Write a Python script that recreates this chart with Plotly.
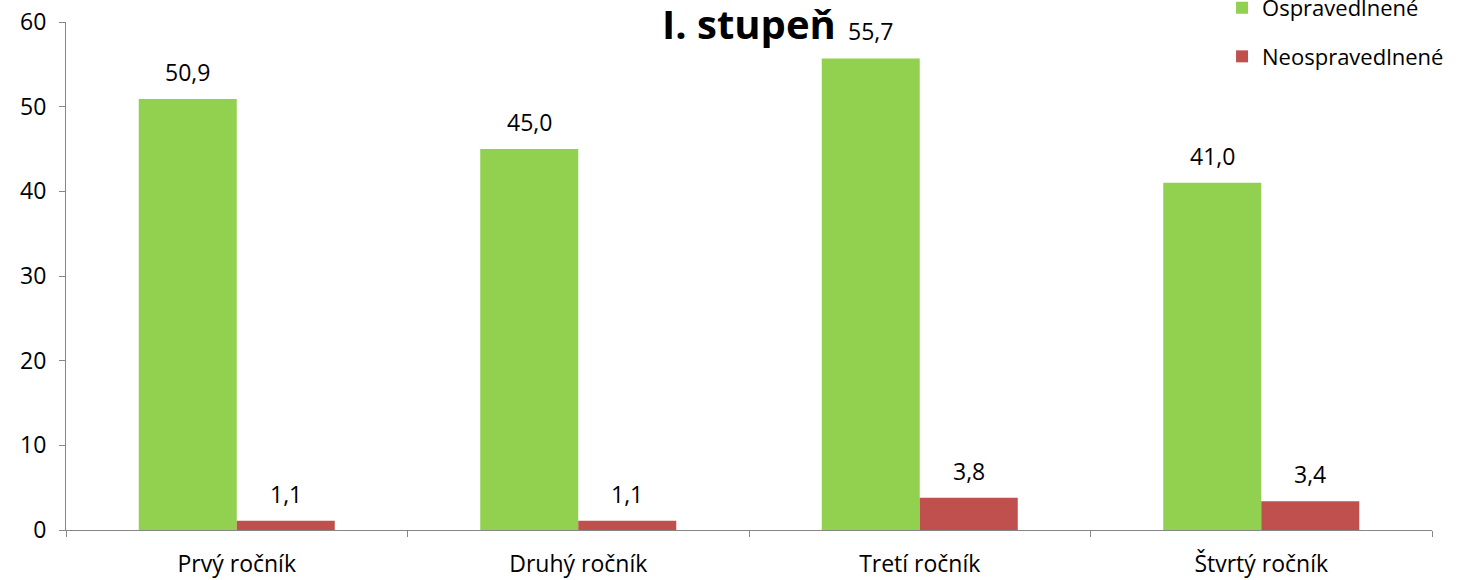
import plotly.graph_objects as go

categories = ["Prvý ročník", "Druhý ročník", "Tretí ročník", "Štvrtý ročník"]
ospravedlnene = [50.9, 45.0, 55.7, 41.0]
neospravedlnene = [1.1, 1.1, 3.8, 3.4]
y_ticks = [0, 10, 20, 30, 40, 50, 60]

FONT = "Open Sans"
FS = 23
GREEN = "#92D050"
RED = "#C0504D"
AXIS = "#868686"

fig = go.Figure()
fig.add_trace(go.Bar(name="Ospravedlnené", x=categories, y=ospravedlnene,
                     marker=dict(color=GREEN, line=dict(width=0)), legendgroup="a"))
fig.add_trace(go.Bar(name="Neospravedlnené", x=categories, y=neospravedlnene,
                     marker=dict(color=RED, line=dict(width=0)), legendgroup="b"))

annotations = []
for series, shift in ((ospravedlnene, -49), (neospravedlnene, 49)):
    for c, v in zip(categories, series):
        annotations.append(dict(x=c, y=v, xref="x", yref="y", text=f"{v:.1f}".replace(".", ","),
                                showarrow=False, xshift=shift, yshift=27, yanchor="middle",
                                font=dict(family=FONT, size=FS, color="#000000")))
annotations.append(dict(x=0.5, y=1, xref="paper", yref="paper", yanchor="middle", yshift=-1,
                        text="<b>I. stupeň</b>", showarrow=False,
                        font=dict(family=FONT, size=40, color="#000000")))

fig.update_layout(
    width=1460, height=580,
    margin=dict(l=66, r=28, t=22, b=50, autoexpand=False),
    paper_bgcolor="white", plot_bgcolor="white",
    barmode="group", bargap=0.426, bargroupgap=0,
    separators=", ",
    font=dict(family=FONT, size=FS, color="#000000"),
    showlegend=True,
    legend=dict(x=0.8463, xanchor="left", y=1.069, yanchor="top",
                traceorder="grouped", tracegroupgap=17,
                font=dict(family=FONT, size=22, color="#000000"),
                bgcolor="rgba(0,0,0,0)", itemwidth=30),
    annotations=annotations,
)
fig.update_xaxes(showline=True, linecolor=AXIS, linewidth=1, ticks="outside",
                 tickson="boundaries", ticklen=6, tickcolor=AXIS, showgrid=False,
                 ticklabelstandoff=13,
                 tickfont=dict(family=FONT, size=FS, color="#000000"))
fig.update_yaxes(range=[0, 60], tickvals=y_ticks, showline=True, linecolor=AXIS, linewidth=1,
                 ticks="outside", ticklen=6, tickcolor=AXIS, showgrid=False, zeroline=False,
                 ticklabelstandoff=8,
                 tickfont=dict(family=FONT, size=FS, color="#000000"))

fig.write_html("out.html", config={"displayModeBar": False},
               post_script="document.body.style.margin='0';document.body.style.overflow='hidden';")
